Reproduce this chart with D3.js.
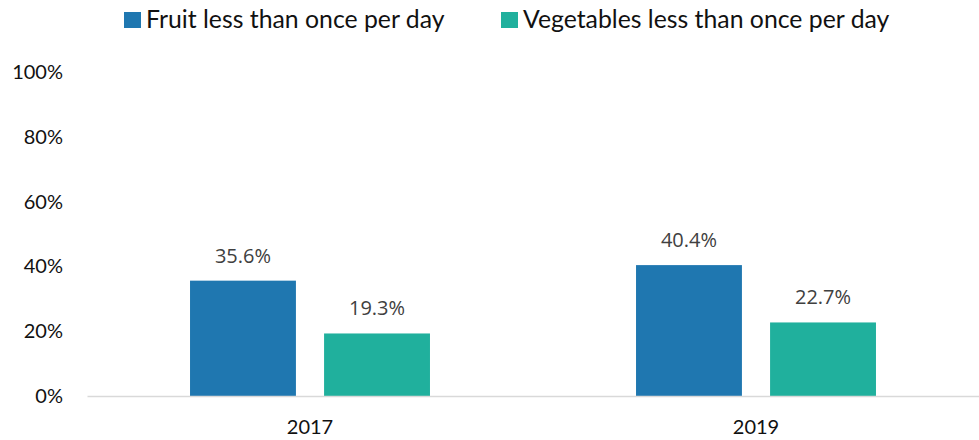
<!DOCTYPE html>
<html>
<head>
<meta charset="utf-8">
<script src="https://cdn.jsdelivr.net/npm/d3@7"></script>
<style>
  body { margin: 0; background: #fff; }
</style>
</head>
<body>
<script>
// data
var years = ["2017", "2019"];
var seriesNames = ["Fruit less than once per day", "Vegetables less than once per day"];
var fruit = [35.6, 40.4];
var vegetables = [19.3, 22.7];
var yTicks = [0, 20, 40, 60, 80, 100];
var colors = ["#1f77b0", "#20b09d"];

var width = 979, height = 440;
var margin = {top: 72, right: 0, bottom: 44, left: 87};

var svg = d3.select("body").append("svg")
    .attr("width", width)
    .attr("height", height)
    .style("font-family", "Lato, sans-serif");

var x0 = d3.scaleBand()
    .domain(years)
    .range([margin.left, width - margin.right])
    .paddingInner(0.462)
    .paddingOuter(0.231);

var x1 = d3.scaleBand()
    .domain(seriesNames)
    .range([0, x0.bandwidth()])
    .paddingInner(0.21);

var y = d3.scaleLinear()
    .domain([0, 100])
    .range([height - margin.bottom, margin.top]);

var rows = years.map(function(yr, i) {
    return {year: yr, values: [fruit[i], vegetables[i]]};
});

// y labels (no axis line)
svg.append("g")
   .selectAll("text")
   .data(yTicks)
   .enter()
   .append("text")
   .attr("x", 63)
   .attr("y", d => y(d))
   .attr("dy", "0.35em")
   .attr("text-anchor", "end")
   .attr("font-size", 20)
   .attr("fill", "#111")
   .text(d => d + "%");

// bars
var groups = svg.append("g")
    .selectAll("g")
    .data(rows)
    .enter()
    .append("g")
    .attr("transform", d => "translate(" + x0(d.year) + ",0)");

groups.selectAll("rect")
    .data(d => d.values.map((v, i) => ({name: seriesNames[i], value: v, i: i})))
    .enter()
    .append("rect")
    .attr("x", d => x1(d.name))
    .attr("y", d => y(d.value))
    .attr("width", x1.bandwidth())
    .attr("height", d => y(0) - y(d.value))
    .attr("fill", d => colors[d.i]);

groups.selectAll("text")
    .data(d => d.values.map((v, i) => ({name: seriesNames[i], value: v})))
    .enter()
    .append("text")
    .attr("x", d => x1(d.name) + x1.bandwidth() / 2)
    .attr("y", d => y(d.value) - 18)
    .attr("text-anchor", "middle")
    .style("font-family", "'Open Sans', sans-serif")
    .style("font-size", "20px")
    .attr("fill", "#404040")
    .text(d => d.value.toFixed(1) + "%");

// x axis
var axis_x = d3.axisBottom(x0).tickSize(0).tickPadding(24);
var gx = svg.append("g")
   .attr("transform", "translate(0," + y(0) + ")")
   .call(axis_x);
gx.select(".domain").attr("stroke", "#d9d9d9").attr("stroke-width", 1.5);
gx.selectAll("text")
  .style("font-family", "Lato, sans-serif")
  .attr("font-size", 20)
  .attr("fill", "#111");

// legend
var legendX = [124, 501];
var legend = svg.append("g")
    .selectAll("g")
    .data(seriesNames)
    .enter()
    .append("g")
    .attr("transform", (d, i) => "translate(" + legendX[i] + ",12)");

legend.append("rect")
    .attr("width", 17)
    .attr("height", 16)
    .attr("fill", (d, i) => colors[i]);

legend.append("text")
    .attr("x", 22)
    .attr("y", 7)
    .attr("dy", "0.35em")
    .attr("font-size", 24.8)
    .attr("fill", "#111")
    .text(d => d);
</script>
</body>
</html>
